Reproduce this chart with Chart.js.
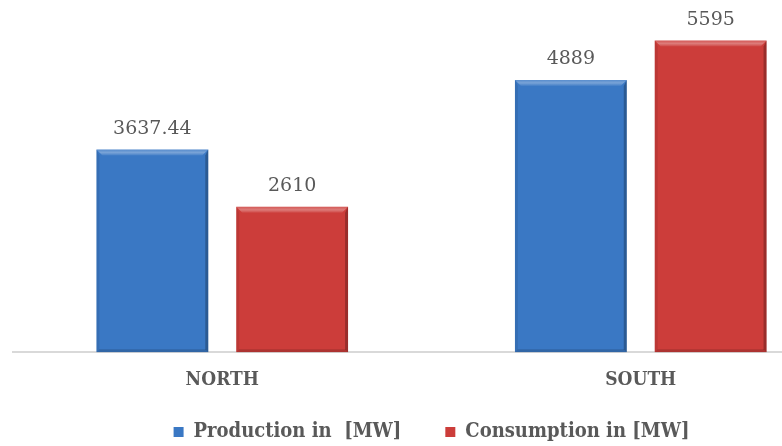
<!DOCTYPE html>
<html>
<head>
<meta charset="utf-8">
<script src="https://cdn.jsdelivr.net/npm/chart.js@4/dist/chart.umd.min.js"></script>
<style>
  html, body { margin: 0; padding: 0; background: #ffffff; overflow: hidden; }
  #wrap { width: 782px; height: 446px; overflow: hidden; position: relative; }
  canvas { display: block; }
</style>
</head>
<body>
<div id="wrap"><canvas id="c" width="864" height="446"></canvas></div>
<script>
// Regions and power figures
const regions = ['NORTH', 'SOUTH'];
const production = [3637.44, 4889];
const consumption = [2610, 5595];
const seriesNames = ['Production in  [MW]', 'Consumption in [MW]'];

// Top / bottom shades of each series
const shades = [
  { top: '#4285d4', bottom: '#3168ab', flat: '#3a78c4' },
  { top: '#db4542', bottom: '#ab322f', flat: '#cc3d3a' }
];
const TEXT = '#595959';

// Bar fill: vertical gradient spanning the bar itself
function barFill(ctx) {
  const shade = shades[ctx.datasetIndex];
  const el = ctx.element;
  if (!el || !isFinite(el.y) || !isFinite(el.base) || el.base === el.y) return shade.flat;
  const g = ctx.chart.ctx.createLinearGradient(0, el.y, 0, el.base);
  g.addColorStop(0, shade.top);
  g.addColorStop(1, shade.bottom);
  return g;
}

// Bevelled edges for each bar: light top edge, darker sides and foot
const bevelPlugin = {
  id: 'bevel',
  afterDatasetsDraw(chart) {
    const ctx = chart.ctx;
    chart.data.datasets.forEach((ds, di) => {
      const meta = chart.getDatasetMeta(di);
      meta.data.forEach(bar => {
        const left = bar.x - bar.width / 2;
        const right = bar.x + bar.width / 2;
        const top = bar.y;
        const bottom = bar.base;
        const b = 6;
        ctx.save();
        const tg = ctx.createLinearGradient(0, top, 0, top + b);
        tg.addColorStop(0, 'rgba(255,255,255,0.15)');
        tg.addColorStop(0.5, 'rgba(255,255,255,0.32)');
        tg.addColorStop(1, 'rgba(255,255,255,0.05)');
        ctx.beginPath();
        ctx.moveTo(left, top); ctx.lineTo(right, top);
        ctx.lineTo(right - b, top + b); ctx.lineTo(left + b, top + b);
        ctx.closePath();
        ctx.fillStyle = tg;
        ctx.fill();
        ctx.beginPath();
        ctx.moveTo(left, top); ctx.lineTo(left + 3, top + b);
        ctx.lineTo(left + 3, bottom - 3); ctx.lineTo(left, bottom);
        ctx.closePath();
        ctx.fillStyle = 'rgba(0,0,0,0.08)';
        ctx.fill();
        ctx.beginPath();
        ctx.moveTo(right, top); ctx.lineTo(right - 3, top + b);
        ctx.lineTo(right - 3, bottom - 3); ctx.lineTo(right, bottom);
        ctx.closePath();
        ctx.fillStyle = 'rgba(0,0,0,0.25)';
        ctx.fill();
        ctx.beginPath();
        ctx.moveTo(left, bottom); ctx.lineTo(left + 3, bottom - 3);
        ctx.lineTo(right - 3, bottom - 3); ctx.lineTo(right, bottom);
        ctx.closePath();
        ctx.fillStyle = 'rgba(0,0,0,0.15)';
        ctx.fill();
        ctx.restore();
      });
    });
  }
};

// Value printed above each bar
const valueLabelPlugin = {
  id: 'valueLabels',
  afterDatasetsDraw(chart) {
    const ctx = chart.ctx;
    ctx.save();
    ctx.font = '19px "DejaVu Serif"';
    ctx.fillStyle = TEXT;
    ctx.textAlign = 'center';
    ctx.textBaseline = 'bottom';
    chart.data.datasets.forEach((ds, di) => {
      const meta = chart.getDatasetMeta(di);
      meta.data.forEach((bar, i) => {
        ctx.fillText(String(ds.data[i]), bar.x, bar.y - 11);
      });
    });
    ctx.restore();
  }
};

// Pull the legend row up closer to the category labels
const legendLift = {
  id: 'legendLift',
  afterLayout(chart) {
    const lg = chart.legend;
    if (lg) { lg.top -= 21; lg.bottom -= 21; }
  }
};

new Chart(document.getElementById('c'), {
  type: 'bar',
  data: {
    labels: regions,
    datasets: [
      { label: seriesNames[0], data: production, backgroundColor: barFill, borderWidth: 0 },
      { label: seriesNames[1], data: consumption, backgroundColor: barFill, borderWidth: 0 }
    ]
  },
  options: {
    responsive: false,
    animation: false,
    devicePixelRatio: 1,
    categoryPercentage: 0.668,
    barPercentage: 0.8,
    layout: { padding: { left: 13, right: 14, top: 18, bottom: -27 } },
    scales: {
      x: {
        grid: { display: false },
        border: { display: true, color: '#d9d9d9', width: 2 },
        ticks: {
          color: TEXT,
          padding: 8,
          font: { family: '"DejaVu Serif Condensed", "DejaVu Serif"', weight: 'bold', size: 19 }
        }
      },
      y: {
        display: false,
        min: 0,
        max: 6000
      }
    },
    plugins: {
      legend: {
        position: 'bottom',
        labels: {
          color: TEXT,
          boxWidth: 10,
          boxHeight: 10,
          padding: 44,
          generateLabels(chart) {
            return chart.data.datasets.map((ds, i) => ({
              text: ds.label,
              fillStyle: shades[i].flat,
              strokeStyle: shades[i].flat,
              lineWidth: 0,
              fontColor: TEXT,
              datasetIndex: i,
              hidden: false
            }));
          },
          font: { family: '"DejaVu Serif Condensed", "DejaVu Serif"', weight: 'bold', size: 20 }
        }
      },
      tooltip: { enabled: false }
    }
  },
  plugins: [bevelPlugin, valueLabelPlugin, legendLift]
});
</script>
</body>
</html>
